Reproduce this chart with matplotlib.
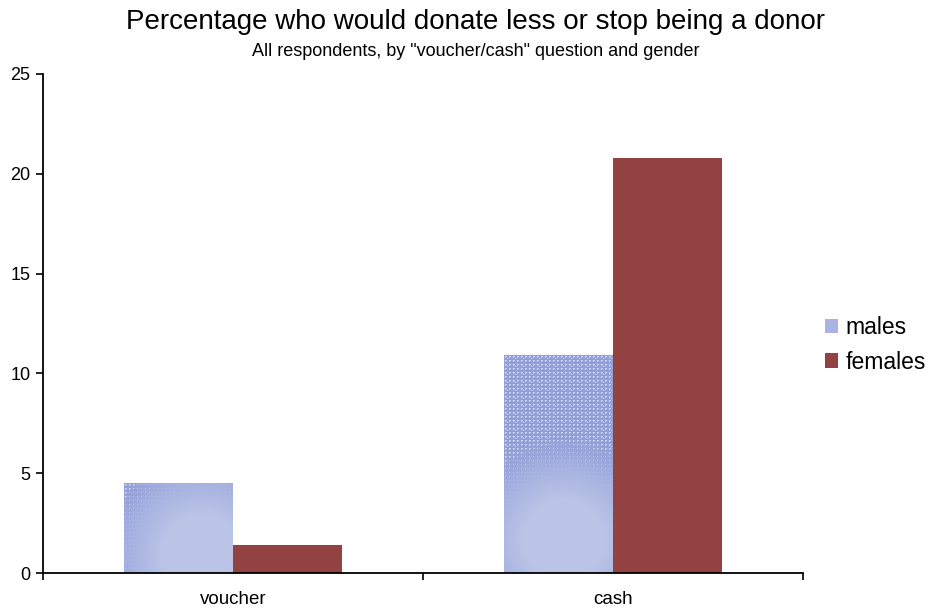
import numpy as np
import matplotlib
matplotlib.use("Agg")
import matplotlib.pyplot as plt
from matplotlib.patches import Patch

plt.rcParams['font.family'] = ['Liberation Sans', 'DejaVu Sans']

categories = ["voucher", "cash"]
series_names = ["males", "females"]
males = [4.5, 10.9]
females = [1.4, 20.8]
yticks = [0, 5, 10, 15, 20, 25]

W, H = 929, 608
fig = plt.figure(figsize=(W / 100, H / 100), dpi=100)
ax = fig.add_axes([43 / W, (H - 573) / H, (803 - 43) / W, (573 - 74) / H])

x = np.arange(len(categories)) + 0.5
bw = 0.286
ax.set_xlim(0, len(categories))
ax.set_ylim(0, 25)

female_color = "#924240"
male_light = np.array([186, 196, 231]) / 255
male_dark = np.array([145, 158, 216]) / 255
dot_color = np.array([222, 228, 247]) / 255

mbars = ax.bar(x - bw / 2, males, width=bw, color=male_light, edgecolor="none", zorder=2)
fbars = ax.bar(x + bw / 2, females, width=bw, color=female_color, edgecolor="none", zorder=2)

# textured fill for the male bars: radial gradient with a dot screen
fig.canvas.draw()
centers = [(0.72, 0.2), (0.55, 0.15)]
for bar, (cx, cy) in zip(mbars, centers):
    x0, y0 = bar.get_x(), bar.get_y()
    w, h = bar.get_width(), bar.get_height()
    p0 = ax.transData.transform((x0, y0))
    p1 = ax.transData.transform((x0 + w, y0 + h))
    npx = max(int(round(p1[0] - p0[0])), 2)
    npy = max(int(round(p1[1] - p0[1])), 2)
    xx, yy = np.meshgrid(np.linspace(0, 1, npx), np.linspace(1, 0, npy))
    rx = (xx - cx) * npx
    ry = (yy - cy) * npy
    r = np.sqrt(rx ** 2 + ry ** 2) / (0.75 * npx)
    t = np.clip((r - 0.5) / 0.8, 0, 1)
    img = male_light[None, None, :] * (1 - t[..., None]) + male_dark[None, None, :] * t[..., None]
    ii, jj = np.meshgrid(np.arange(npx), np.arange(npy))
    dots = (ii % 4 == 1) & (jj % 4 == 1) & (t > 0.3)
    big = ((ii % 4 == 2) & (jj % 4 == 1) | (ii % 4 == 1) & (jj % 4 == 2)) & (t > 0.85)
    diag = (ii % 8 == 3) & (jj % 8 == 3) & (t > 0.95)
    mask = dots | big | diag
    strength = np.clip((t - 0.3) / 0.7, 0, 1)[..., None] * 0.8
    img = np.where(mask[..., None], img * (1 - strength) + dot_color * strength, img)
    im = ax.imshow(img, extent=(x0, x0 + w, y0, y0 + h), aspect="auto",
                   interpolation="nearest", zorder=2.5)
    im.set_clip_path(bar)

ax.set_aspect("auto")
ax.set_xlim(0, len(categories))
ax.set_ylim(0, 25)

for s in ["top", "right"]:
    ax.spines[s].set_visible(False)
for s in ["left", "bottom"]:
    ax.spines[s].set_linewidth(1.3)
    ax.spines[s].set_color("black")

ax.set_yticks(yticks)
ax.set_yticklabels([str(v) for v in yticks], fontsize=13)
ax.tick_params(axis="y", direction="out", length=5, width=1.2, pad=4)
ax.set_xticks(np.arange(len(categories) + 1))
ax.set_xticklabels([])
ax.set_xticks(x, minor=True)
ax.set_xticklabels(categories, minor=True, fontsize=13.5)
ax.tick_params(axis="x", which="minor", length=0, pad=13)
ax.tick_params(axis="x", which="major", direction="out", length=5, width=1.2)

fig.text(476 / W, 1 - 22 / H, "Percentage who would donate less or stop being a donor",
         ha="center", va="center", fontsize=20)
fig.text(476 / W, 1 - 52 / H, 'All respondents, by "voucher/cash" question and gender',
         ha="center", va="center", fontsize=13)

handles = [Patch(facecolor="#A9B4E2", edgecolor="none"),
           Patch(facecolor=female_color, edgecolor="none")]
fig.legend(handles, series_names, loc="center left", bbox_to_anchor=(816 / W, 1 - 345 / H),
           frameon=False, fontsize=16.5, handlelength=0.55, handleheight=0.6,
           handletextpad=0.35, labelspacing=0.5, borderaxespad=0)

fig.savefig("out.png", dpi=100)
